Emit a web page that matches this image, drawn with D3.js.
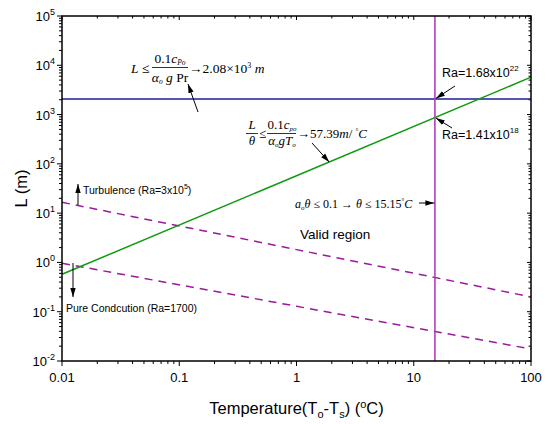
<!DOCTYPE html>
<html>
<head>
<meta charset="utf-8">
<script src="https://cdn.jsdelivr.net/npm/d3@7"></script>
<style>
  html, body { margin: 0; padding: 0; background: #fff; }
  svg { display: block; }
  text { font-family: Arial, "Liberation Sans", sans-serif; }
  .eq { font-family: "Times New Roman", "Liberation Serif", serif; }
</style>
</head>
<body>
<svg id="chart" width="552" height="424"></svg>
<script>
// ---- data ----
const xTickValues = [0.01, 0.1, 1, 10, 100];
const xTickLabels = ["0.01", "0.1", "1", "10", "100"];
const yTickExponents = [-2, -1, 0, 1, 2, 3, 4, 5];
const tempRange = [0.01, 100];
const blueLimitL = [2080, 2080];            // L <= 2.08e3 m
const greenLimitT = [0.01, 100];
const greenLimitL = [0.5739, 5739];         // L/theta <= 57.39 m/C
const thetaMax = 15.15;                     // theta <= 15.15 C
const turbT = [0.01, 1, 100];
const turbL = [16.6, 1.82, 0.20];           // Ra = 3x10^5
const condT = [0.01, 1, 100];
const condL = [0.96, 0.129, 0.0175];        // Ra = 1700

// ---- layout ----
const svg = d3.select("#chart");
const L = 62, R = 531, T = 16, B = 361;
const x = d3.scaleLog().domain([0.01, 100]).range([L, R]);
const y = d3.scaleLog().domain([0.01, 1e5]).range([B, T]);

svg.append("defs").append("marker")
  .attr("id", "ah").attr("viewBox", "0 0 10 10").attr("refX", 10).attr("refY", 5)
  .attr("markerWidth", 9).attr("markerHeight", 9).attr("markerUnits", "userSpaceOnUse")
  .attr("orient", "auto")
  .append("path").attr("d", "M0,2 L10,5 L0,8 Z").attr("fill", "#000");

// minor tick values
const minorX = [];
for (let e = -2; e < 2; e++) for (let m = 2; m <= 9; m++) minorX.push(m * Math.pow(10, e));
const minorY = [];
for (let e = -2; e < 5; e++) for (let m = 2; m <= 9; m++) minorY.push(m * Math.pow(10, e));

const tickG = svg.append("g").attr("stroke", "#000").attr("stroke-width", 1);
xTickValues.forEach(v => tickG.append("line").attr("x1", x(v)).attr("x2", x(v)).attr("y1", B).attr("y2", B + 5));
minorX.forEach(v => tickG.append("line").attr("x1", x(v)).attr("x2", x(v)).attr("y1", B).attr("y2", B + 3));
xTickValues.forEach(v => tickG.append("line").attr("x1", x(v)).attr("x2", x(v)).attr("y1", T).attr("y2", T + 4));
minorX.forEach(v => tickG.append("line").attr("x1", x(v)).attr("x2", x(v)).attr("y1", T).attr("y2", T + 2.5));
yTickExponents.forEach(e => tickG.append("line").attr("x1", L - 5).attr("x2", L).attr("y1", y(Math.pow(10, e))).attr("y2", y(Math.pow(10, e))));
minorY.forEach(v => tickG.append("line").attr("x1", L - 3).attr("x2", L).attr("y1", y(v)).attr("y2", y(v)));
yTickExponents.forEach(e => tickG.append("line").attr("x1", R - 4).attr("x2", R).attr("y1", y(Math.pow(10, e))).attr("y2", y(Math.pow(10, e))));
minorY.forEach(v => tickG.append("line").attr("x1", R - 2.5).attr("x2", R).attr("y1", y(v)).attr("y2", y(v)));

// x tick labels
xTickValues.forEach((v, i) => {
  svg.append("text").attr("x", x(v)).attr("y", B + 21).attr("text-anchor", "middle")
    .attr("font-size", 13).attr("fill", "#000").text(xTickLabels[i]);
});
// y tick labels
yTickExponents.forEach(e => {
  const t = svg.append("text").attr("x", L - 7).attr("y", y(Math.pow(10, e)) + 5)
    .attr("text-anchor", "end").attr("font-size", 13).attr("fill", "#000");
  t.append("tspan").text("10");
  t.append("tspan").attr("dy", -6).attr("font-size", 9).text(String(e));
});

// axis titles
svg.append("text").attr("x", (L + R) / 2).attr("y", 414).attr("text-anchor", "middle")
  .attr("font-size", 16.5).call(t => {
    t.append("tspan").text("Temperature(T");
    t.append("tspan").attr("font-size", 11).attr("dy", 4).text("o");
    t.append("tspan").attr("dy", -4).text("-T");
    t.append("tspan").attr("font-size", 11).attr("dy", 4).text("s");
    t.append("tspan").attr("dy", -4).text(") (");
    t.append("tspan").attr("font-size", 11).attr("dy", -6).text("o");
    t.append("tspan").attr("dy", 6).text("C)");
  });
svg.append("text").attr("transform", `translate(27,${(T + B) / 2}) rotate(-90)`)
  .attr("text-anchor", "middle").attr("font-size", 16.5).text("L (m)");

// ---- series ----
const line = d3.line().x(d => x(d[0])).y(d => y(d[1]));
const plot = svg.append("g");

plot.append("path").datum(turbT.map((t, i) => [t, turbL[i]])).attr("d", line)
  .attr("fill", "none").attr("stroke", "#9a1a9a").attr("stroke-width", 1.5).attr("stroke-dasharray", "8,6");
plot.append("path").datum(condT.map((t, i) => [t, condL[i]])).attr("d", line)
  .attr("fill", "none").attr("stroke", "#9a1a9a").attr("stroke-width", 1.5).attr("stroke-dasharray", "8,6");
plot.append("path").datum(tempRange.map((t, i) => [t, blueLimitL[i]])).attr("d", line)
  .attr("fill", "none").attr("stroke", "#1c1c9a").attr("stroke-width", 1.5);
plot.append("path").datum(greenLimitT.map((t, i) => [t, greenLimitL[i]])).attr("d", line)
  .attr("fill", "none").attr("stroke", "#0f9a0f").attr("stroke-width", 1.5);
plot.append("line").attr("x1", x(thetaMax)).attr("x2", x(thetaMax)).attr("y1", T).attr("y2", B)
  .attr("stroke", "#b040b8").attr("stroke-width", 1.6);

// frame
svg.append("rect").attr("x", L).attr("y", T).attr("width", R - L).attr("height", B - T)
  .attr("fill", "none").attr("stroke", "#000").attr("stroke-width", 1.5);

// ---- annotations ----
function arrow(x1, y1, x2, y2) {
  svg.append("line").attr("x1", x1).attr("y1", y1).attr("x2", x2).attr("y2", y2)
    .attr("stroke", "#000").attr("stroke-width", 1).attr("marker-end", "url(#ah)");
}

// Equation 1
const e1 = svg.append("g").attr("fill", "#000").attr("font-size", 13.5);
e1.append("text").attr("class", "eq").attr("x", 131).attr("y", 73).call(t => {
  t.append("tspan").attr("font-style", "italic").text("L");
  t.append("tspan").text(" ≤");
});
e1.append("text").attr("class", "eq").attr("x", 170).attr("y", 63).attr("text-anchor", "middle").call(t => {
  t.append("tspan").text("0.1");
  t.append("tspan").attr("font-style", "italic").text("c");
  t.append("tspan").attr("font-style", "italic").attr("font-size", 7.5).attr("dy", 2).text("Po");
});
e1.append("line").attr("x1", 152).attr("x2", 188).attr("y1", 67.5).attr("y2", 67.5).attr("stroke", "#000").attr("stroke-width", 0.8);
e1.append("text").attr("class", "eq").attr("x", 170).attr("y", 82).attr("text-anchor", "middle").call(t => {
  t.append("tspan").attr("font-style", "italic").text("α");
  t.append("tspan").attr("font-style", "italic").attr("font-size", 7.5).attr("dy", 2).text("o");
  t.append("tspan").attr("font-style", "italic").attr("dy", -2).text(" g");
  t.append("tspan").text(" Pr");
});
e1.append("text").attr("class", "eq").attr("x", 189).attr("y", 73).call(t => {
  t.append("tspan").text("→2.08×10");
  t.append("tspan").attr("font-size", 8).attr("dy", -5).text("3");
  t.append("tspan").attr("font-style", "italic").attr("dy", 5).text(" m");
});
arrow(198, 112, 188, 84);

// Equation 2
const e2 = svg.append("g").attr("fill", "#000").attr("font-size", 13);
e2.append("text").attr("class", "eq").attr("x", 252).attr("y", 129).attr("text-anchor", "middle")
  .attr("font-style", "italic").text("L");
e2.append("line").attr("x1", 246).attr("x2", 258).attr("y1", 133.5).attr("y2", 133.5).attr("stroke", "#000").attr("stroke-width", 0.8);
e2.append("text").attr("class", "eq").attr("x", 252).attr("y", 145).attr("text-anchor", "middle")
  .attr("font-style", "italic").text("θ");
e2.append("text").attr("class", "eq").attr("x", 259).attr("y", 138).text("≤");
e2.append("text").attr("class", "eq").attr("x", 282).attr("y", 129).attr("text-anchor", "middle").call(t => {
  t.append("tspan").text("0.1");
  t.append("tspan").attr("font-style", "italic").text("c");
  t.append("tspan").attr("font-style", "italic").attr("font-size", 7).attr("dy", 2).text("po");
});
e2.append("line").attr("x1", 267).attr("x2", 296).attr("y1", 133.5).attr("y2", 133.5).attr("stroke", "#000").attr("stroke-width", 0.8);
e2.append("text").attr("class", "eq").attr("x", 282).attr("y", 145).attr("text-anchor", "middle").call(t => {
  t.append("tspan").attr("font-style", "italic").text("α");
  t.append("tspan").attr("font-style", "italic").attr("font-size", 7).attr("dy", 2).text("o");
  t.append("tspan").attr("font-style", "italic").attr("dy", -2).text("gT");
  t.append("tspan").attr("font-style", "italic").attr("font-size", 7).attr("dy", 2).text("o");
});
e2.append("text").attr("class", "eq").attr("x", 297).attr("y", 138).call(t => {
  t.append("tspan").text("→57.39");
  t.append("tspan").attr("font-style", "italic").text("m");
  t.append("tspan").text("/ ");
  t.append("tspan").attr("font-size", 7).attr("dy", -5).text("°");
  t.append("tspan").attr("font-style", "italic").attr("dy", 5).text("C");
});
arrow(312, 143, x(1.9), y(1.9 * 57.39));

// Ra labels
const blueHit = [x(thetaMax), y(blueLimitL[0])];
const greenHit = [x(thetaMax), y(thetaMax * 57.39)];
svg.append("text").attr("x", 442).attr("y", 77).attr("font-size", 12.5).call(t => {
  t.append("tspan").text("Ra=1.68x10");
  t.append("tspan").attr("font-size", 8).attr("dy", -6).text("22");
});
arrow(455, 86, blueHit[0] + 1, blueHit[1] - 0.5);
svg.append("text").attr("x", 442).attr("y", 139).attr("font-size", 12.5).call(t => {
  t.append("tspan").text("Ra=1.41x10");
  t.append("tspan").attr("font-size", 8).attr("dy", -6).text("18");
});
arrow(452, 128, greenHit[0] + 1, greenHit[1] + 0.5);

// theta limit
svg.append("text").attr("class", "eq").attr("x", 295).attr("y", 208).attr("font-size", 12).call(t => {
  t.append("tspan").attr("font-style", "italic").text("a");
  t.append("tspan").attr("font-style", "italic").attr("font-size", 7).attr("dy", 2).text("o");
  t.append("tspan").attr("font-style", "italic").attr("dy", -2).text("θ");
  t.append("tspan").text(" ≤ 0.1 → ");
  t.append("tspan").attr("font-style", "italic").text("θ");
  t.append("tspan").text(" ≤ 15.15");
  t.append("tspan").attr("font-size", 7).attr("dy", -5).text("°");
  t.append("tspan").attr("font-style", "italic").attr("dy", 5).text("C");
});
arrow(419, 203, x(thetaMax) - 0.5, 203);

svg.append("text").attr("x", 300).attr("y", 239).attr("font-size", 13.5).text("Valid region");

// Turbulence / conduction
svg.append("text").attr("x", 83).attr("y", 194).attr("font-size", 10.5).call(t => {
  t.append("tspan").text("Turbulence (Ra=3x10");
  t.append("tspan").attr("font-size", 7).attr("dy", -5).text("5");
  t.append("tspan").attr("dy", 5).text(")");
});
arrow(78, 205, 78, 184);
svg.append("text").attr("x", 66).attr("y", 312).attr("font-size", 10.5).text("Pure Condcution (Ra=1700)");
arrow(73, 263, 73, 297);
</script>
</body>
</html>
